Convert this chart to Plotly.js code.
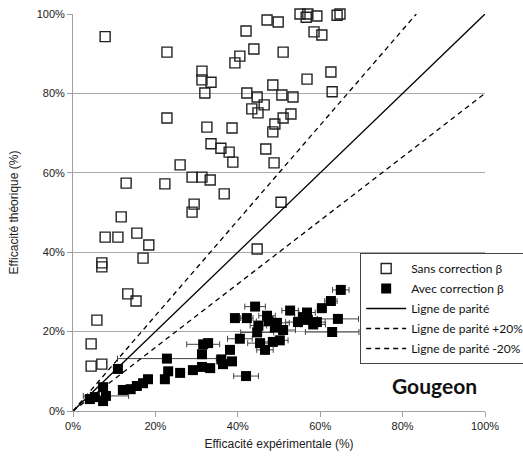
<!DOCTYPE html>
<html>
<head>
<meta charset="utf-8">
<script src="https://cdn.plot.ly/plotly-3.0.1.min.js"></script>
<style>html,body{margin:0;padding:0;background:#fff;}#chart{width:523px;height:463px;}</style>
</head>
<body>
<div id="chart"></div>
<script>
// Sans correction β (open squares)
const sansX = [7.8,22.8,55.1,57.0,56.6,59.2,64.1,64.8,47.1,49.8,42.0,58.5,60.4,43.9,51.0,40.5,39.3,62.6,56.8,48.5,42.2,44.7,50.7,53.4,62.9,43.4,44.9,46.4,52.9,51.0,49.0,48.5,38.6,46.8,31.3,31.3,33.5,32.0,22.8,32.5,33.5,35.9,37.9,38.8,48.8,26.0,22.3,28.9,31.3,33.3,36.7,29.4,28.9,50.5,12.9,11.7,7.8,10.9,15.5,18.4,17.0,7.0,7.0,44.7,13.3,15.3,5.8,4.4,4.4,7.0];
const sansY = [94.3,90.4,100,100,99.2,99.5,99.7,100,98.5,98.0,95.7,95.5,94.7,91.2,90.4,89.4,87.7,85.4,83.6,82.1,80.1,79.1,79.6,79.1,80.4,76.1,75.1,77.1,74.8,73.8,72.3,70.3,71.3,66.0,85.6,83.4,82.8,80.1,73.8,71.5,67.3,66.2,65.2,62.7,62.5,62.0,57.2,58.9,58.9,58.2,54.7,52.1,50.1,52.6,57.4,48.9,43.8,43.8,44.8,41.8,38.5,37.3,36.3,40.8,29.5,27.7,22.9,16.9,11.3,11.8];

// Avec correction β (filled squares) with horizontal error
const avecX = [4.1,5.3,7.3,8.0,7.3,10.9,12.1,14.0,15.5,17.0,18.2,22.3,23.1,22.8,26.0,29.1,31.3,33.3,36.4,38.6,38.1,31.3,31.6,32.8,39.3,42.2,44.2,47.1,49.5,51.0,42.0,40.5,44.7,45.4,46.6,48.5,50.2,52.7,56.8,58.3,57.0,59.2,60.4,62.6,65.0,64.3,62.9,55.8,54.6,49.0,47.5,36.0,45.0];
const avecY = [3.0,3.5,2.5,3.8,6.0,10.6,5.3,5.5,6.3,7.0,8.0,8.0,10.0,13.2,9.6,10.3,11.1,10.8,11.8,12.5,15.4,14.3,16.8,17.1,23.4,23.4,26.3,24.0,22.2,20.4,8.8,18.2,19.8,17.1,15.4,17.4,17.8,25.3,24.8,21.8,23.0,22.4,25.9,27.7,30.5,23.2,19.9,23.6,22.4,21.0,22.6,13.0,21.5];
const avecErr = [1,0,0,5.5,0,0,0,0,0,0,0,0,0,12,0,0,0,0,0,0,0,0,4,0,0,1.5,2.5,2,3,3,3,3,4,3,2,2,2,2,2,3,2,2,1,1.5,2,5,6.5,2,3,0,3,0,2];

// Parity lines
const parityX = [0,100], parityY = [0,100];
const plus20X = [0,83.33], plus20Y = [0,100];
const minus20X = [0,100], minus20Y = [0,80];

const xTicks = [0,20,40,60,80,100];
const xTickLabels = ['0%','20%','40%','60%','80%','100%'];
const yTicks = [0,20,40,60,80,100];
const yTickLabels = ['0%','20%','40%','60%','80%','100%'];

const traces = [
  {x: sansX, y: sansY, mode:'markers', type:'scatter', name:'Sans correction β', legendgroup:'a',
   marker:{symbol:'square-open', size:10, color:'#222', line:{width:1.4, color:'#222'}}, cliponaxis:false},
  {x: avecX, y: avecY, mode:'markers', type:'scatter', name:'Avec correction β', legendgroup:'b',
   marker:{symbol:'square', size:10, color:'#000'},
   error_x:{type:'data', array: avecErr, symmetric:true, color:'#444', thickness:1, width:3}, cliponaxis:false},
  {x: parityX, y: parityY, mode:'lines', type:'scatter', name:'Ligne de parité', legendgroup:'c',
   line:{color:'#000', width:1.3}},
  {x: plus20X, y: plus20Y, mode:'lines', type:'scatter', name:'Ligne de parité +20%', legendgroup:'d',
   line:{color:'#000', width:1.3, dash:'5px,4px'}},
  {x: minus20X, y: minus20Y, mode:'lines', type:'scatter', name:'Ligne de parité -20%', legendgroup:'e',
   line:{color:'#000', width:1.3, dash:'5px,4px'}}
];

const layout = {
  width:523, height:463,
  margin:{l:73, r:38, t:14, b:52, autoexpand:false},
  paper_bgcolor:'#fff', plot_bgcolor:'#fff',
  showlegend:true,
  xaxis:{range:[0,100], tickvals:xTicks, ticktext:xTickLabels, showgrid:false, zeroline:false,
         showline:true, linecolor:'#a0a0a0', linewidth:1, ticks:'outside', ticklen:5, tickcolor:'#a0a0a0',
         tickfont:{family:'Liberation Sans, Arial, sans-serif', size:11, color:'#222'},
         title:{text:'Efficacité expérimentale (%)', font:{family:'Liberation Sans, Arial, sans-serif', size:12, color:'#222'}, standoff:8}},
  yaxis:{range:[0,100], tickvals:yTicks, ticktext:yTickLabels, showgrid:true, gridcolor:'#a8a8a8', gridwidth:1, zeroline:false,
         showline:true, linecolor:'#a0a0a0', linewidth:1, ticks:'outside', ticklen:5, tickcolor:'#a0a0a0',
         tickfont:{family:'Liberation Sans, Arial, sans-serif', size:11, color:'#222'},
         title:{text:'Efficacité théorique (%)', font:{family:'Liberation Sans, Arial, sans-serif', size:12, color:'#222'}, standoff:15}},
  legend:{x:0.697, y:0.398, xanchor:'left', yanchor:'top', bgcolor:'#fff', bordercolor:'#444', borderwidth:1,
          traceorder:'grouped', tracegroupgap:1,
          font:{family:'Lato, Open Sans, sans-serif', size:12, color:'#111'}, itemwidth:40},
  annotations:[{xref:'paper', yref:'paper', x:0.985, y:0.063, xanchor:'right', yanchor:'middle', showarrow:false,
                text:'<b>Gougeon</b>', font:{family:'Lato, Open Sans, sans-serif', size:21, color:'#111'}}]
};

Plotly.newPlot('chart', traces, layout, {displayModeBar:false, staticPlot:true});
</script>
</body>
</html>
